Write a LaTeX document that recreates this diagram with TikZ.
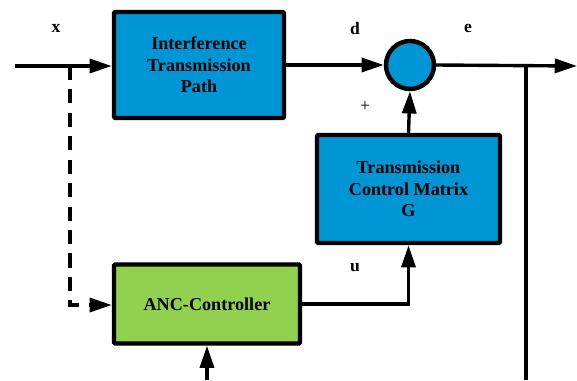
\documentclass[tikz,border=0pt]{standalone}
\usepackage{fontspec}
\setmainfont{Liberation Serif}
\usetikzlibrary{arrows.meta}
\definecolor{boxblue}{RGB}{0,150,214}
\definecolor{boxgreen}{RGB}{146,208,80}
\begin{document}
\begin{tikzpicture}[x=0.03cm, y=-0.03cm]
    %--------------------%
    % Parameters
    %--------------------%
    \def\linethic{2.9pt}
    \def\boxthic{3.8pt}
    \tikzset{
        block/.style={draw, rectangle, rounded corners=1pt, line width=\boxthic, align=center,
            font=\bfseries\fontsize{15.5}{18.5}\selectfont},
        sig/.style={line width=\linethic, -{Triangle[length=19pt,width=12pt]}},
        lbl/.style={font=\bfseries\fontsize{15}{17}\selectfont}
    }
    \useasboundingbox (0,0) rectangle (577,380);

    %--------------------%
    % Blocks
    %--------------------%
    \node[block, fill=boxblue, minimum width=5.1cm, minimum height=3.18cm] (itp) at (199,65) {Interference\\Transmission\\Path};
    \node[draw, circle, fill=boxblue, line width=\boxthic, minimum size=1.44cm] (sum) at (410,65) {};
    \node[block, fill=boxblue, minimum width=5.49cm, minimum height=3.24cm] (tcm) at (408.5,189) {Transmission\\Control Matrix\\G};
    \node[block, fill=boxgreen, minimum width=5.58cm, minimum height=2.37cm] (anc) at (207,304) {ANC-Controller};

    %--------------------%
    % Helper points
    %--------------------%
    \coordinate (xin) at (15,66);
    \coordinate (xsplit) at (70,66);
    \coordinate (xdown) at (70,305);
    \coordinate (eout) at (577,66);
    \coordinate (esplit) at (526,66);
    \coordinate (edown) at (526,380);
    \coordinate (ancin) at (207,380);
    \coordinate (ubend) at (tcm.south |- anc.east);

    %--------------------%
    % Connections
    %--------------------%
    \draw[sig] (xin) -- (itp.west |- xin);
    \draw[sig] (itp.east) -- (sum.west);
    \draw[sig] (sum.east) -- (eout);
    \draw[sig] (tcm.north) -- (sum.south);
    \draw[sig] (anc.east) -- (ubend) -- (tcm.south);
    \draw[sig] (ancin) -- (anc.south);
    \draw[line width=\linethic] (esplit) -- (edown);
    \draw[sig, dash pattern=on 12pt off 8pt] (xsplit) -- (xdown) -- (anc.west |- xdown);

    %--------------------%
    % Labels
    %--------------------%
    \node[lbl] (xlab) at (56,28) {x};
    \node[lbl] (dlab) at (355,28) {d};
    \node[lbl] (elab) at (468,28) {e};
    \node[lbl] (ulab) at (355,268) {u};
    \node[font=\fontsize{15}{17}\selectfont] (plus) at (365,107) {+};

\end{tikzpicture}
\end{document}
